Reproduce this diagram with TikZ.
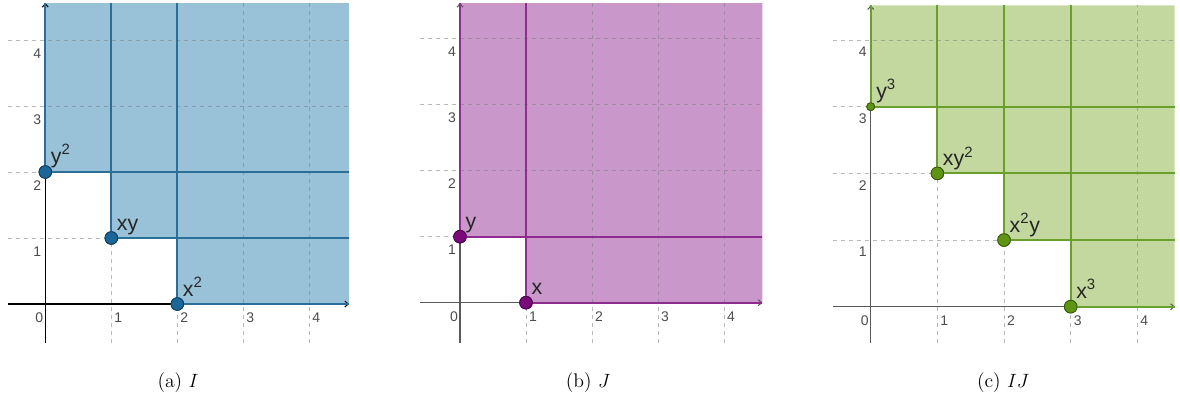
\documentclass[tikz,border=0pt]{standalone}
\usepackage{fontspec}
\newfontfamily\geofont{Liberation Sans}
\usetikzlibrary{arrows.meta,calc}
\definecolor{aFill}{HTML}{99C2D8}
\definecolor{aLine}{HTML}{2A6F97}
\definecolor{aDot}{HTML}{1B6699}
\definecolor{aEdge}{HTML}{0E3A58}
\definecolor{bFill}{HTML}{C997CA}
\definecolor{bLine}{HTML}{8F2C8F}
\definecolor{bDot}{HTML}{7A0A7A}
\definecolor{bEdge}{HTML}{4A004A}
\definecolor{cFill}{HTML}{C3D89F}
\definecolor{cLine}{HTML}{6B9F2B}
\definecolor{cDot}{HTML}{5E9412}
\definecolor{cEdge}{HTML}{365A08}
\tikzset{
  gridline/.style={dash pattern=on 3pt off 3pt, draw=gray, line width=0.5pt, opacity=0.55},
  axisline/.style={line width=0.8pt, -{Straight Barb[length=2.5pt,width=4.5pt]}},
  ticklab/.style={font=\geofont\fontsize{10.5}{12}\selectfont, text=black!70, inner sep=0pt},
  bound/.style={line width=1.4pt},
  dot/.style={circle, inner sep=0pt, minimum size=9.5pt, line width=0.6pt},
  smalldot/.style={circle, inner sep=0pt, minimum size=6pt, line width=0.6pt},
  ptlabel/.style={font=\geofont\fontsize{16}{18}\selectfont, text=black!85, anchor=base west, inner sep=0pt},
  caption/.style={font=\fontsize{14.8}{17}\selectfont, inner sep=0pt}
}
\begin{document}
\begin{tikzpicture}[x=0.75pt,y=-0.75pt]
\useasboundingbox (0,0) rectangle (1180,414);

%================ panel (a) =================
\begin{scope}[shift={(45.3,304)}, x=49.5pt, y=49.5pt]
  \def\xmin{-0.57}\def\xmax{4.6}\def\ymin{-0.59}\def\ymax{4.56}
  \fill[aFill] (0,\ymax) -- (0,2) -- (1,2) -- (1,1) -- (2,1) -- (2,0) -- (\xmax,0) -- (\xmax,\ymax) -- cycle;
  \foreach \i in {1,...,4} {
    \draw[gridline] (\i,\ymin) -- (\i,\ymax);
    \draw[gridline] (\xmin,\i) -- (\xmax,\i);
  }
  \draw[axisline, draw=black] (\xmin,0) -- (\xmax,0);
  \draw[axisline, draw=black] (0,\ymin) -- (0,\ymax);
  \node[ticklab] (a0) at (-0.09,-0.21) {0};
  \foreach \i in {1,...,4} {
    \node[ticklab] (ax\i) at (\i+0.105,-0.21) {\i};
    \node[ticklab] (ay\i) at (-0.12,\i-0.2) {\i};
  }
  \node[dot, fill=aDot, draw=aEdge] (ayy) at (0,2) {};
  \node[dot, fill=aDot, draw=aEdge] (axy) at (1,1) {};
  \node[dot, fill=aDot, draw=aEdge] (axx) at (2,0) {};
  \foreach \p in {ayy,axy,axx} {
    \draw[bound, aLine] (\p.center) -- (\p.center |- 0,\ymax);
    \draw[bound, aLine] (\p.center) -- (\p.center -| \xmax,0);
  }
  \node[dot, fill=aDot, draw=aEdge] at (ayy) {};
  \node[dot, fill=aDot, draw=aEdge] at (axy) {};
  \node[dot, fill=aDot, draw=aEdge] at (axx) {};
  \node[ptlabel] (layy) at ([shift={(4pt,6.5pt)}]ayy.center) {y\textsuperscript{2}};
  \node[ptlabel] (laxy) at ([shift={(4pt,5.5pt)}]axy.center) {xy};
  \node[ptlabel] (laxx) at ([shift={(4pt,6pt)}]axx.center) {x\textsuperscript{2}};
\end{scope}

%================ panel (b) =================
\begin{scope}[shift={(460,302.7)}, x=49.5pt, y=49.5pt]
  \def\xmin{-0.6}\def\xmax{4.58}\def\ymin{-0.61}\def\ymax{4.54}
  \fill[bFill] (0,\ymax) -- (0,1) -- (1,1) -- (1,0) -- (\xmax,0) -- (\xmax,\ymax) -- cycle;
  \foreach \i in {1,...,4} {
    \draw[gridline] (\i,\ymin) -- (\i,\ymax);
    \draw[gridline] (\xmin,\i) -- (\xmax,\i);
  }
  \draw[axisline, draw=black!65] (\xmin,0) -- (\xmax,0);
  \draw[axisline, draw=black!65] (0,\ymin) -- (0,\ymax);
  \node[ticklab] (b0) at (-0.09,-0.21) {0};
  \foreach \i in {1,...,4} {
    \node[ticklab] (bx\i) at (\i+0.105,-0.21) {\i};
    \node[ticklab] (by\i) at (-0.12,\i-0.2) {\i};
  }
  \node[dot, fill=bDot, draw=bEdge] (by) at (0,1) {};
  \node[dot, fill=bDot, draw=bEdge] (bx) at (1,0) {};
  \foreach \p in {by,bx} {
    \draw[bound, bLine] (\p.center) -- (\p.center |- 0,\ymax);
    \draw[bound, bLine] (\p.center) -- (\p.center -| \xmax,0);
  }
  \node[dot, fill=bDot, draw=bEdge] at (by) {};
  \node[dot, fill=bDot, draw=bEdge] at (bx) {};
  \node[ptlabel] (lby) at ([shift={(4pt,6pt)}]by.center) {y};
  \node[ptlabel] (lbx) at ([shift={(4pt,6pt)}]bx.center) {x};
\end{scope}

%================ panel (c) =================
\begin{scope}[shift={(870.7,306.7)}, x=50pt, y=50pt]
  \def\xmin{-0.57}\def\xmax{4.56}\def\ymin{-0.55}\def\ymax{4.52}
  \fill[cFill] (0,\ymax) -- (0,3) -- (1,3) -- (1,2) -- (2,2) -- (2,1) -- (3,1) -- (3,0) -- (\xmax,0) -- (\xmax,\ymax) -- cycle;
  \foreach \i in {1,...,4} {
    \draw[gridline] (\i,\ymin) -- (\i,\ymax);
    \draw[gridline] (\xmin,\i) -- (\xmax,\i);
  }
  \draw[axisline, draw=black!65] (\xmin,0) -- (\xmax,0);
  \draw[axisline, draw=black!65] (0,\ymin) -- (0,\ymax);
  \node[ticklab] (c0) at (-0.09,-0.21) {0};
  \foreach \i in {1,...,4} {
    \node[ticklab] (cx\i) at (\i+0.105,-0.21) {\i};
    \node[ticklab] (cy\i) at (-0.12,\i-0.18) {\i};
  }
  \node[smalldot, fill=cDot, draw=cEdge] (cyyy) at (0,3) {};
  \node[dot, fill=cDot, draw=cEdge] (cxyy) at (1,2) {};
  \node[dot, fill=cDot, draw=cEdge] (cxxy) at (2,1) {};
  \node[dot, fill=cDot, draw=cEdge] (cxxx) at (3,0) {};
  \foreach \p in {cyyy,cxyy,cxxy,cxxx} {
    \draw[bound, cLine] (\p.center) -- (\p.center |- 0,\ymax);
    \draw[bound, cLine] (\p.center) -- (\p.center -| \xmax,0);
  }
  \node[smalldot, fill=cDot, draw=cEdge] at (cyyy) {};
  \node[dot, fill=cDot, draw=cEdge] at (cxyy) {};
  \node[dot, fill=cDot, draw=cEdge] at (cxxy) {};
  \node[dot, fill=cDot, draw=cEdge] at (cxxx) {};
  \node[ptlabel] (lcyyy) at ([shift={(4pt,6.5pt)}]cyyy.center) {y\textsuperscript{3}};
  \node[ptlabel] (lcxyy) at ([shift={(4pt,6pt)}]cxyy.center) {xy\textsuperscript{2}};
  \node[ptlabel] (lcxxy) at ([shift={(4pt,6pt)}]cxxy.center) {x\textsuperscript{2}y};
  \node[ptlabel] (lcxxx) at ([shift={(4pt,6.5pt)}]cxxx.center) {x\textsuperscript{3}};
\end{scope}

%================ captions =================
\node[caption] (capa) at (178,383) {(a)\ $I$};
\node[caption] (capb) at (588,383) {(b)\ $J$};
\node[caption] (capc) at (1003,383) {(c)\ $IJ$};
\end{tikzpicture}
\end{document}
